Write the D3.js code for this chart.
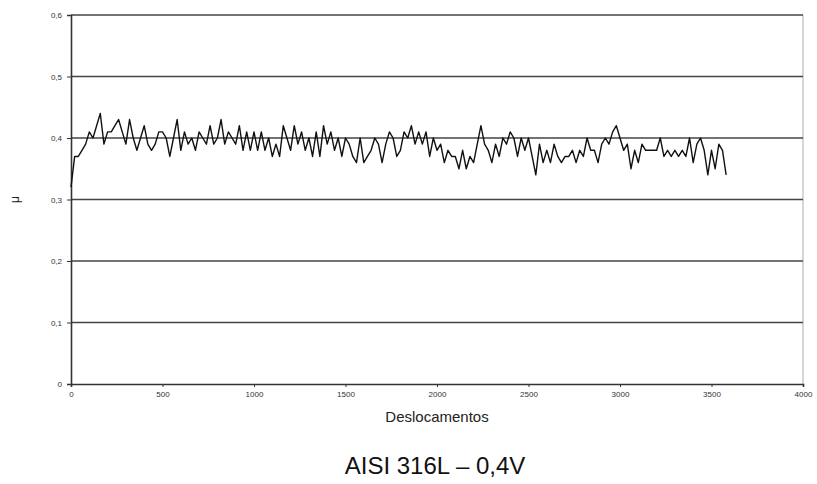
<!DOCTYPE html>
<html>
<head>
<meta charset="utf-8">
<script src="https://cdn.jsdelivr.net/npm/d3@7"></script>
<style>
  body { margin: 0; background: #fff; }
  svg { display: block; font-family: "Liberation Sans", Arial, sans-serif; }
</style>
</head>
<body>
<svg id="chart"></svg>
<script>
// chart data
const xStep = 20;
const muValues = [
  0.32, 0.37, 0.37, 0.38, 0.39, 0.41, 0.40, 0.42, 0.44, 0.39,
  0.41, 0.41, 0.42, 0.43, 0.41, 0.39, 0.43, 0.40, 0.38, 0.40,
  0.42, 0.39, 0.38, 0.39, 0.41, 0.41, 0.40, 0.37, 0.40, 0.43,
  0.38, 0.41, 0.39, 0.40, 0.38, 0.41, 0.40, 0.39, 0.42, 0.39,
  0.40, 0.43, 0.39, 0.41, 0.40, 0.39, 0.42, 0.38, 0.41, 0.38,
  0.41, 0.38, 0.41, 0.38, 0.40, 0.37, 0.39, 0.37, 0.42, 0.40,
  0.38, 0.42, 0.39, 0.41, 0.38, 0.40, 0.37, 0.41, 0.37, 0.42,
  0.39, 0.41, 0.38, 0.40, 0.37, 0.40, 0.39, 0.37, 0.36, 0.40,
  0.36, 0.37, 0.38, 0.40, 0.39, 0.36, 0.39, 0.41, 0.40, 0.37,
  0.38, 0.41, 0.40, 0.42, 0.39, 0.41, 0.39, 0.41, 0.37, 0.40,
  0.38, 0.39, 0.36, 0.38, 0.37, 0.37, 0.35, 0.38, 0.35, 0.37,
  0.36, 0.39, 0.42, 0.39, 0.38, 0.36, 0.39, 0.37, 0.40, 0.39,
  0.41, 0.40, 0.37, 0.40, 0.38, 0.40, 0.37, 0.34, 0.39, 0.36,
  0.38, 0.36, 0.39, 0.37, 0.36, 0.37, 0.37, 0.38, 0.36, 0.38,
  0.37, 0.40, 0.38, 0.38, 0.36, 0.39, 0.40, 0.39, 0.41, 0.42,
  0.40, 0.38, 0.39, 0.35, 0.38, 0.36, 0.39, 0.38, 0.38, 0.38,
  0.38, 0.40, 0.37, 0.38, 0.37, 0.38, 0.37, 0.38, 0.37, 0.40,
  0.36, 0.39, 0.40, 0.38, 0.34, 0.38, 0.35, 0.39, 0.38, 0.34
];
const xTicks = [0, 500, 1000, 1500, 2000, 2500, 3000, 3500, 4000];
const yTicks = [0, 0.1, 0.2, 0.3, 0.4, 0.5, 0.6];
const xTitle = "Deslocamentos";
const yTitle = "μ";
const caption = "AISI 316L – 0,4V";

const data = muValues.map((v, i) => ({ x: i * xStep, y: v }));

const width = 817;
const height = 484;
const margin = { top: 15, right: 14, bottom: 100, left: 71 };

const svg = d3.select("#chart")
  .attr("width", width)
  .attr("height", height);

const x = d3.scaleLinear().domain([0, 4000]).range([margin.left, width - margin.right]);
const y = d3.scaleLinear().domain([0, 0.6]).range([height - margin.bottom, margin.top]);

const fmt = d => d3.format(".1f")(d).replace(".", ",");

// right border of plot area
svg.append("line")
  .attr("x1", x(4000)).attr("x2", x(4000))
  .attr("y1", y(0.6)).attr("y2", y(0))
  .attr("stroke", "#c8c8c8").attr("stroke-width", 1.5);

// gridlines
svg.append("g")
  .selectAll("line")
  .data(yTicks.filter(d => d > 0))
  .join("line")
  .attr("x1", x(0)).attr("x2", x(4000))
  .attr("y1", d => y(d)).attr("y2", d => y(d))
  .attr("stroke", "#444").attr("stroke-width", 1.3);

// y axis
const yAxis = svg.append("g")
  .attr("transform", `translate(${x(0)},0)`)
  .call(d3.axisLeft(y).tickValues(yTicks).tickSize(4).tickPadding(5)
    .tickFormat(d => d === 0 ? "0" : fmt(d)));
yAxis.select(".domain").attr("stroke", "#333").attr("stroke-width", 1.6);
yAxis.selectAll(".tick line").attr("stroke", "#333");
yAxis.selectAll("text").attr("font-size", 8).attr("fill", "#333");

// x axis
const xAxis = svg.append("g")
  .attr("transform", `translate(0,${y(0)})`)
  .call(d3.axisBottom(x).tickValues(xTicks).tickSize(3).tickPadding(4)
    .tickFormat(d3.format("d")));
xAxis.select(".domain").attr("stroke", "#333").attr("stroke-width", 1.6);
xAxis.selectAll(".tick line").attr("stroke", "#333");
xAxis.selectAll("text").attr("font-size", 8).attr("fill", "#333");

// data line
const line = d3.line().x(d => x(d.x)).y(d => y(d.y));
svg.append("path")
  .datum(data)
  .attr("d", line)
  .attr("fill", "none")
  .attr("stroke", "#111")
  .attr("stroke-width", 1.4)
  .attr("stroke-linejoin", "round");

// axis titles
svg.append("text")
  .attr("x", (x(0) + x(4000)) / 2)
  .attr("y", 422)
  .attr("text-anchor", "middle")
  .attr("font-size", 15)
  .attr("fill", "#222")
  .text(xTitle);

svg.append("text")
  .attr("transform", `translate(19,${(y(0) + y(0.6)) / 2}) rotate(-90)`)
  .attr("text-anchor", "middle")
  .attr("font-size", 12)
  .attr("fill", "#222")
  .text(yTitle);

svg.append("text")
  .attr("x", 435)
  .attr("y", 474)
  .attr("text-anchor", "middle")
  .attr("font-size", 24)
  .attr("fill", "#111")
  .text(caption);
</script>
</body>
</html>
